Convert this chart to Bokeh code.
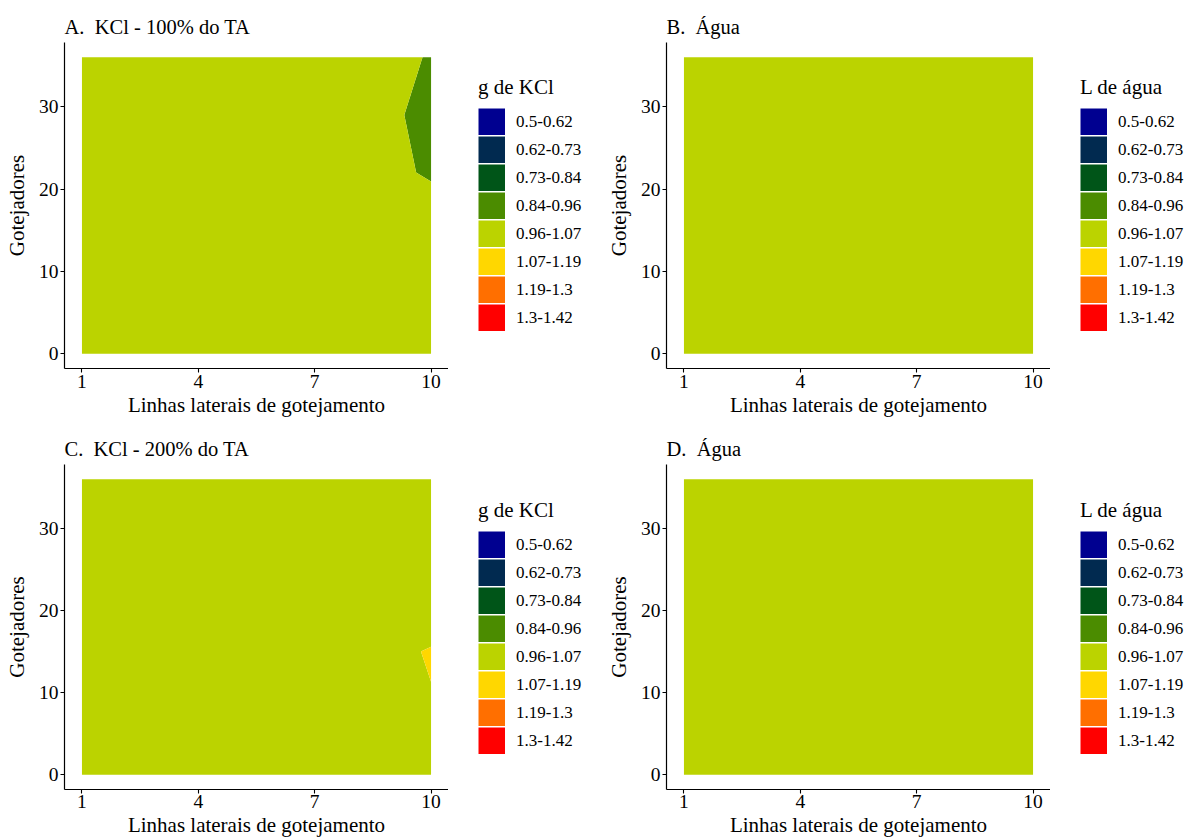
import numpy as np
from bokeh.plotting import figure
from bokeh.models import Range1d, FixedTicker, Legend, LegendItem
from bokeh.layouts import gridplot
from bokeh.embed import file_html
from bokeh.resources import INLINE

# ---------------- data ----------------
lines = [1, 2, 3, 4, 5, 6, 7, 8, 9, 10]          # Linhas laterais
emitters = [0, 8, 15, 22, 29, 36]                 # Gotejadores
levels = [0.5, 0.62, 0.73, 0.84, 0.96, 1.07, 1.19, 1.3, 1.42]
class_labels = ["0.5-0.62", "0.62-0.73", "0.73-0.84", "0.84-0.96",
                "0.96-1.07", "1.07-1.19", "1.19-1.3", "1.3-1.42"]
class_colors = ["#000090", "#012A50", "#005518", "#4B8C00",
                "#BBD300", "#FFD700", "#FF6F00", "#FF0000"]
x_ticks = [1, 4, 7, 10]
y_ticks = [0, 10, 20, 30]

# rows: emitters 0, 8, 15, 22, 29, 36 ; columns: lines 1..10
z_kcl_100 = [
    [1.01, 1.02, 1.00, 0.99, 1.01, 1.02, 1.00, 1.01, 0.99, 1.00],
    [1.02, 1.01, 1.03, 1.00, 1.02, 1.01, 0.99, 1.00, 1.01, 1.01],
    [1.00, 1.02, 1.01, 1.03, 1.00, 1.02, 1.01, 1.00, 1.00, 1.014],
    [1.01, 1.00, 1.02, 1.01, 1.03, 1.00, 0.99, 0.98, 0.976, 0.95],
    [1.02, 1.01, 1.00, 1.02, 1.01, 1.00, 1.01, 0.99, 0.987, 0.90],
    [1.03, 1.02, 1.01, 1.00, 1.02, 1.03, 1.02, 1.01, 1.031, 0.94],
]
z_agua_a = [
    [1.00, 1.01, 1.00, 0.99, 1.00, 1.01, 1.00, 1.00, 0.99, 1.00],
    [1.01, 1.00, 1.01, 1.00, 1.01, 1.00, 0.99, 1.00, 1.00, 1.01],
    [1.00, 1.01, 1.00, 1.01, 1.00, 1.01, 1.00, 0.99, 1.00, 1.00],
    [0.99, 1.00, 1.01, 1.00, 1.01, 1.00, 1.00, 1.01, 1.00, 0.99],
    [1.00, 1.00, 0.99, 1.01, 1.00, 0.99, 1.01, 1.00, 1.01, 1.00],
    [1.01, 1.00, 1.00, 1.00, 1.01, 1.00, 1.00, 1.01, 1.00, 1.00],
]
z_kcl_200 = [
    [1.00, 1.01, 1.02, 1.00, 0.99, 1.01, 1.02, 1.01, 1.02, 1.02],
    [1.01, 1.00, 1.01, 1.02, 1.01, 1.00, 1.01, 1.03, 1.04, 1.061],
    [1.02, 1.01, 1.00, 1.01, 1.02, 1.01, 1.02, 1.03, 1.0415, 1.08],
    [1.01, 1.02, 1.01, 1.00, 1.01, 1.02, 1.00, 1.01, 1.00, 0.964],
    [1.00, 1.01, 1.02, 1.01, 1.00, 1.01, 1.02, 1.00, 1.01, 1.00],
    [1.01, 1.00, 1.01, 1.02, 1.01, 1.00, 1.01, 1.02, 1.00, 1.01],
]
z_agua_b = [
    [0.99, 1.00, 1.00, 1.01, 1.00, 1.00, 1.01, 1.00, 1.00, 1.00],
    [1.00, 1.01, 1.00, 1.00, 0.99, 1.00, 1.00, 1.01, 1.00, 1.00],
    [1.00, 1.00, 1.01, 1.00, 1.00, 1.01, 1.00, 1.00, 0.99, 1.00],
    [1.01, 1.00, 1.00, 0.99, 1.00, 1.00, 1.01, 1.00, 1.00, 1.01],
    [1.00, 1.01, 1.00, 1.00, 1.01, 1.00, 1.00, 0.99, 1.00, 1.00],
    [1.00, 1.00, 1.01, 1.00, 1.00, 1.01, 1.00, 1.00, 1.01, 1.00],
]

FONT = "Liberation Serif"


def panel(title, z, width, height, b_left, b_top, b_bottom, lab_so, title_so):
    p = figure(width=width, height=height,
               x_range=Range1d(0.55, 10.45), y_range=Range1d(-1.8, 37.8),
               output_backend="svg", toolbar_location=None,
               min_border_left=b_left, min_border_right=0,
               min_border_top=b_top, min_border_bottom=b_bottom,
               background_fill_color="white", border_fill_color="white")
    p.outline_line_color = None
    p.xgrid.visible = False
    p.ygrid.visible = False

    p.contour(x=lines, y=emitters, z=np.array(z), levels=levels,
              fill_color=class_colors, line_color=None)

    p.title.text = title
    p.title.text_font = FONT
    p.title.text_font_size = "20.5px"
    p.title.text_font_style = "normal"
    p.title.text_color = "black"
    p.title.align = "left"
    p.title.vertical_align = "middle"
    p.title.standoff = 8

    for ax in (p.xaxis[0], p.yaxis[0]):
        ax.axis_line_color = "black"
        ax.axis_line_width = 1.2
        ax.major_tick_line_color = "black"
        ax.major_tick_line_width = 1.1
        ax.major_tick_out = 4
        ax.major_tick_in = 0
        ax.minor_tick_line_color = None
        ax.major_label_text_font = FONT
        ax.major_label_text_font_size = "19.5px"
        ax.major_label_text_color = "black"
        ax.axis_label_text_font = FONT
        ax.axis_label_text_font_size = "21px"
        ax.axis_label_text_font_style = "normal"
        ax.axis_label_text_color = "black"
    p.xaxis[0].ticker = FixedTicker(ticks=x_ticks)
    p.yaxis[0].ticker = FixedTicker(ticks=y_ticks)
    p.xaxis[0].axis_label = "Linhas laterais de gotejamento"
    p.yaxis[0].axis_label = "Gotejadores"
    p.xaxis[0].major_label_standoff = lab_so
    p.xaxis[0].axis_label_standoff = title_so
    p.yaxis[0].major_label_standoff = 2
    p.yaxis[0].axis_label_standoff = 7
    return p


def legend_panel(legend_title, width, height, y_off):
    # frame of this figure is aligned with the neighbouring panel's frame
    q = figure(width=width, height=height, title=None,
               x_range=Range1d(0, 1), y_range=Range1d(0, 1),
               output_backend="svg", toolbar_location=None,
               min_border_left=0, min_border_right=0,
               min_border_top=0, min_border_bottom=0,
               background_fill_color="white", border_fill_color="white")
    q.outline_line_color = None
    q.axis.visible = False
    q.xgrid.visible = False
    q.ygrid.visible = False
    items = []
    for lab, col in zip(class_labels, class_colors):
        r = q.line(x=[np.nan, np.nan], y=[np.nan, np.nan], line_color=col,
                   line_width=27, line_cap="butt")
        items.append(LegendItem(label=lab, renderers=[r]))
    leg = Legend(items=items, location=(30, y_off),
                 title=legend_title, title_text_font=FONT,
                 title_text_font_size="21px", title_text_font_style="normal",
                 title_standoff=8,
                 label_text_font=FONT, label_text_font_size="17px",
                 label_text_color="black", title_text_color="black",
                 label_standoff=11, glyph_width=27, glyph_height=27, spacing=1,
                 padding=0, margin=0, border_line_color=None,
                 background_fill_alpha=0)
    q.add_layout(leg, "center")
    return q


pA = panel("A.\u00a0 KCl - 100% do TA", z_kcl_100, 448, 422, 64, 42, 54, 2, 2)
lA = legend_panel("g de KCl", 150, 422, 37)
pB = panel("B.\u00a0 Água", z_agua_a, 452, 422, 68, 42, 54, 2, 2)
lB = legend_panel("L de água", 137, 422, 37)
pC = panel("C.\u00a0 KCl - 200% do TA", z_kcl_200, 448, 417, 64, 42, 49, 1, 2)
lC = legend_panel("g de KCl", 150, 417, 35)
pD = panel("D.\u00a0 Água", z_agua_b, 452, 417, 68, 42, 49, 1, 2)
lD = legend_panel("L de água", 137, 417, 35)

grid = gridplot([[pA, lA, pB, lB], [pC, lC, pD, lD]], toolbar_location=None)

open("out.html", "w").write(file_html(grid, INLINE))
